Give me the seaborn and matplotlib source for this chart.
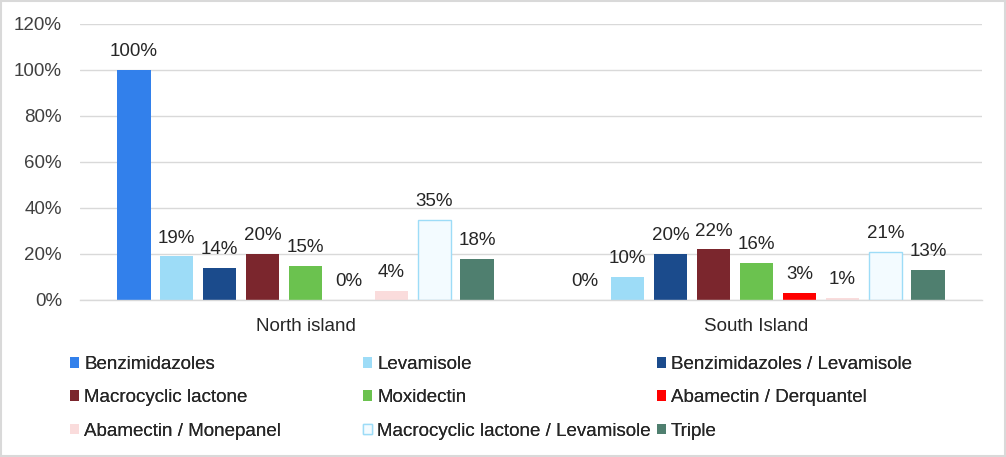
import numpy as np
import pandas as pd
import matplotlib.pyplot as plt
import seaborn as sns
from matplotlib.ticker import PercentFormatter

islands = ['North island', 'South Island']
drugs = ['Benzimidazoles', 'Levamisole', 'Benzimidazoles / Levamisole',
         'Macrocyclic lactone', 'Moxidectin', 'Abamectin / Derquantel',
         'Abamectin / Monepanel', 'Macrocyclic lactone / Levamisole', 'Triple']
north = [100, 19, 14, 20, 15, 0, 4, 35, 18]
south = [0, 10, 20, 22, 16, 3, 1, 21, 13]
colors = ['#3280EB', '#9DDCF7', '#1B4B8C', '#7B262D', '#6BC24F',
          '#FF0000', '#FADCDC', '#F3FBFF', '#4F7F6F']

df = pd.DataFrame({
    'Island': [islands[0]] * 9 + [islands[1]] * 9,
    'Drug': drugs * 2,
    'Value': north + south,
})

sns.set_style('white')
plt.rcParams['font.family'] = ['Liberation Sans', 'DejaVu Sans']
fs = 13.5

fig = plt.figure(figsize=(10.06, 4.57), dpi=100)
ax = fig.add_axes([80 / 1006, 1 - 300 / 457, 902 / 1006, 276 / 457])

sns.barplot(data=df, x='Island', y='Value', hue='Drug', hue_order=drugs,
            palette=colors, width=0.858, gap=0.21, saturation=1,
            edgecolor='none', linewidth=0, legend=False, ax=ax)

for cont, d in zip(ax.containers, drugs):
    if d == 'Macrocyclic lactone / Levamisole':
        for p in cont.patches:
            p.set_edgecolor('#9DDCF7')
            p.set_linewidth(1.0)
    ax.bar_label(cont, labels=[f'{v:.0f}%' for v in cont.datavalues],
                 padding=7, fontsize=fs, color='#262626')

ax.set_ylim(0, 120)
ax.set_xlim(-0.5, 1.5)
ax.set_yticks(np.arange(0, 121, 20))
ax.yaxis.set_major_formatter(PercentFormatter(decimals=0))
ax.grid(axis='y', color='#D9D9D9', linewidth=1)
ax.set_axisbelow(True)
for s in ['top', 'right', 'left']:
    ax.spines[s].set_visible(False)
ax.spines['bottom'].set_color('#D9D9D9')
ax.spines['bottom'].set_linewidth(1)
ax.tick_params(axis='both', length=0, labelsize=fs, colors='#404040')
ax.tick_params(axis='y', pad=13)
ax.tick_params(axis='x', pad=13)
ax.set_xlabel('')
ax.set_ylabel('')
for lab in ax.get_xticklabels():
    lab.set_color('#262626')

# legend, three columns filled row by row
handles = [plt.Rectangle((0, 0), 1, 1, facecolor=c,
                         edgecolor='#9DDCF7' if i == 7 else 'none', linewidth=1)
           for i, c in enumerate(colors)]
col_x = [70, 363, 657]
for j in range(3):
    idx = [j, j + 3, j + 6]
    leg = fig.legend([handles[i] for i in idx], [drugs[i] for i in idx],
                     loc='upper left', bbox_to_anchor=(col_x[j] / 1006, 1 - 356 / 457),
                     frameon=False, fontsize=fs, handlelength=0.48, handleheight=0.48,
                     handletextpad=0.27, labelspacing=0.87, borderpad=0, borderaxespad=0)
    for t in leg.get_texts():
        t.set_color('#262626')
    fig.add_artist(leg)

fig.patches.append(plt.Rectangle((0.001, 0.002), 0.998, 0.996, transform=fig.transFigure,
                                 fill=False, edgecolor='#D9D9D9', linewidth=1.5))

fig.savefig('out.png', dpi=100, facecolor='white')
